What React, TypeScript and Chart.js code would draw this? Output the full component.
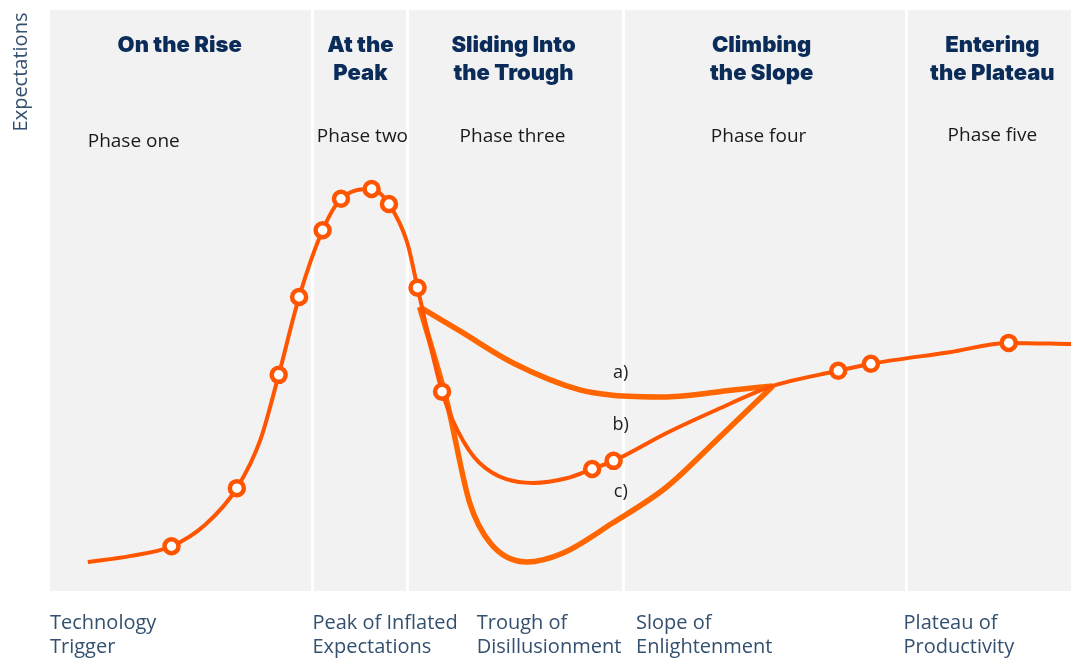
import React, { useEffect, useRef } from "react";
import { Chart, registerables } from "chart.js";

Chart.register(...registerables);

// Main hype curve (path b), in time (0-100) / expectations (0-100) units
const mainX = [3.7, 7.8, 11.9, 15.2, 18.3, 20.6, 22.4, 24.4, 26.7, 28.5, 31.5, 33.2, 35.0, 36.0, 38.4, 39.9, 42.1, 47.3, 50.6, 53.1, 55.2, 60.4, 65.3, 70.8, 77.2, 80.4, 88.1, 93.9, 100];
const mainY = [5.0, 6.0, 7.7, 11.4, 17.7, 26.0, 37.2, 50.6, 62.1, 67.5, 69.2, 66.6, 59.9, 52.2, 34.3, 27.7, 22.0, 18.6, 19.4, 21.0, 22.4, 27.2, 31.2, 35.3, 37.9, 39.1, 41.1, 42.7, 42.5];
const mainMarkers = [0, 0, 1, 0, 1, 0, 1, 1, 1, 1, 1, 1, 0, 1, 1, 0, 0, 0, 0, 1, 1, 0, 0, 0, 1, 1, 0, 1, 0];

// Alternative path a)
const pathAX = [36.2, 40.1, 45.4, 51.9, 55.1, 60.4, 66.9, 70.8];
const pathAY = [48.9, 44.8, 39.2, 34.6, 33.7, 33.4, 34.6, 35.3];

// Alternative path c)
const pathCX = [36.2, 38.9, 41.1, 43.1, 46.7, 50.2, 55.1, 60.4, 65.3, 70.8];
const pathCY = [48.9, 32.4, 15.2, 8.3, 5.0, 6.5, 11.7, 17.9, 26.0, 35.3];

// Phase boundaries on the time axis
const phaseBounds = [25.7, 35.0, 56.1, 83.8];
const phaseTitles = [
  ["On the Rise"],
  ["At the", "Peak"],
  ["Sliding Into", "the Trough"],
  ["Climbing", "the Slope"],
  ["Entering", "the Plateau"],
];
const phaseNames = ["Phase one", "Phase two", "Phase three", "Phase four", "Phase five"];
const stageLabels = [
  ["Technology", "Trigger"],
  ["Peak of Inflated", "Expectations"],
  ["Trough of", "Disillusionment"],
  ["Slope of", "Enlightenment"],
  ["Plateau of", "Productivity"],
];
const pathLabels = ["a)", "b)", "c)"];
const yAxisTitle = "Expectations";

const toPts = (xs: number[], ys: number[]) => xs.map((x, i) => ({ x, y: ys[i] }));

// layout of annotations (time-axis units / expectation units)
const titleCenters = [12.7, 30.4, 45.4, 69.7, 92.3];
const phaseNameCenters = [8.2, 30.6, 45.3, 69.4, 92.3];
const phaseNameBaselines = [147, 142, 142, 142, 141];
const stageLeft = [0, 25.7, 41.8, 57.4, 83.6];
const pathLabelPos = [
  { x: 55.9, y: 37.5 },
  { x: 55.9, y: 28.6 },
  { x: 55.9, y: 17.0 },
];

const decorPlugin = {
  id: "hypeDecor",
  beforeDraw(chart: any) {
    const { ctx, chartArea: ca, scales } = chart;
    const xs = scales.x;
    const ys = scales.y;
    ctx.save();
    ctx.fillStyle = "#f2f2f2";
    ctx.fillRect(ca.left, ca.top, ca.right - ca.left, ca.bottom - ca.top);
    ctx.strokeStyle = "#ffffff";
    ctx.lineWidth = 3;
    phaseBounds.forEach((b) => {
      const px = Math.round(xs.getPixelForValue(b)) + 0.5;
      ctx.beginPath();
      ctx.moveTo(px, ca.top);
      ctx.lineTo(px, ca.bottom);
      ctx.stroke();
    });

    // titles
    ctx.fillStyle = "#0b2c59";
    ctx.font = "900 22px Inter";
    ctx.textAlign = "center";
    ctx.textBaseline = "alphabetic";
    phaseTitles.forEach((lines, i) => {
      const cx = xs.getPixelForValue(titleCenters[i]);
      lines.forEach((t, j) => ctx.fillText(t, cx, 52 + j * 28));
    });

    // phase names
    ctx.fillStyle = "#1a1a1a";
    ctx.font = "19px 'Open Sans'";
    phaseNames.forEach((t, i) => {
      ctx.fillText(t, xs.getPixelForValue(phaseNameCenters[i]), phaseNameBaselines[i]);
    });

    // stage labels under the plot
    ctx.fillStyle = "#34506f";
    ctx.font = "20px 'Open Sans'";
    ctx.textAlign = "left";
    stageLabels.forEach((lines, i) => {
      const lx = xs.getPixelForValue(stageLeft[i]);
      lines.forEach((t, j) => ctx.fillText(t, lx, 629 + j * 24));
    });

    // y axis title
    ctx.save();
    ctx.translate(27, 72);
    ctx.rotate(-Math.PI / 2);
    ctx.textAlign = "center";
    ctx.fillText(yAxisTitle, 0, 0);
    ctx.restore();

    // path labels
    ctx.fillStyle = "#222222";
    ctx.font = "18px 'Open Sans'";
    ctx.textAlign = "center";
    ctx.textBaseline = "middle";
    pathLabels.forEach((t, i) => {
      ctx.fillText(t, xs.getPixelForValue(pathLabelPos[i].x), ys.getPixelForValue(pathLabelPos[i].y));
    });
    ctx.restore();
  },
};

export default function App() {
  const ref = useRef<HTMLCanvasElement | null>(null);
  useEffect(() => {
    if (!ref.current) return;
    const chart = new Chart(ref.current, {
      type: "line",
      data: {
        datasets: [
          {
            label: "b)",
            data: toPts(mainX, mainY),
            borderColor: "#ff5500",
            borderWidth: 4,
            cubicInterpolationMode: "monotone",
            pointRadius: mainMarkers.map((m) => (m ? 7 : 0)),
            pointHoverRadius: mainMarkers.map((m) => (m ? 7 : 0)),
            pointBorderWidth: 4.5,
            pointBackgroundColor: "#ffffff",
            pointBorderColor: "#ff5500",
            fill: false,
          },
          {
            label: "a)",
            data: toPts(pathAX, pathAY),
            borderColor: "#ff6600",
            borderWidth: 5.5,
            cubicInterpolationMode: "monotone",
            pointRadius: 0,
            fill: false,
          },
          {
            label: "c)",
            data: toPts(pathCX, pathCY),
            borderColor: "#ff6600",
            borderWidth: 5.5,
            cubicInterpolationMode: "monotone",
            pointRadius: 0,
            fill: false,
          },
        ],
      },
      options: {
        responsive: false,
        animation: false,
        layout: { padding: { left: 50, top: 10, right: 0, bottom: 68 } },
        plugins: { legend: { display: false }, tooltip: { enabled: false } },
        events: [],
        scales: {
          x: { type: "linear", min: 0, max: 100, display: false },
          y: { type: "linear", min: 0, max: 100, display: false },
        },
      },
      plugins: [decorPlugin],
    });
    return () => chart.destroy();
  }, []);
  return (
    <div style={{ position: "fixed", left: 0, top: 0, width: 1071, height: 659, background: "#ffffff" }}>
      <canvas ref={ref} width={1071} height={659} style={{ display: "block" }} />
    </div>
  );
}
